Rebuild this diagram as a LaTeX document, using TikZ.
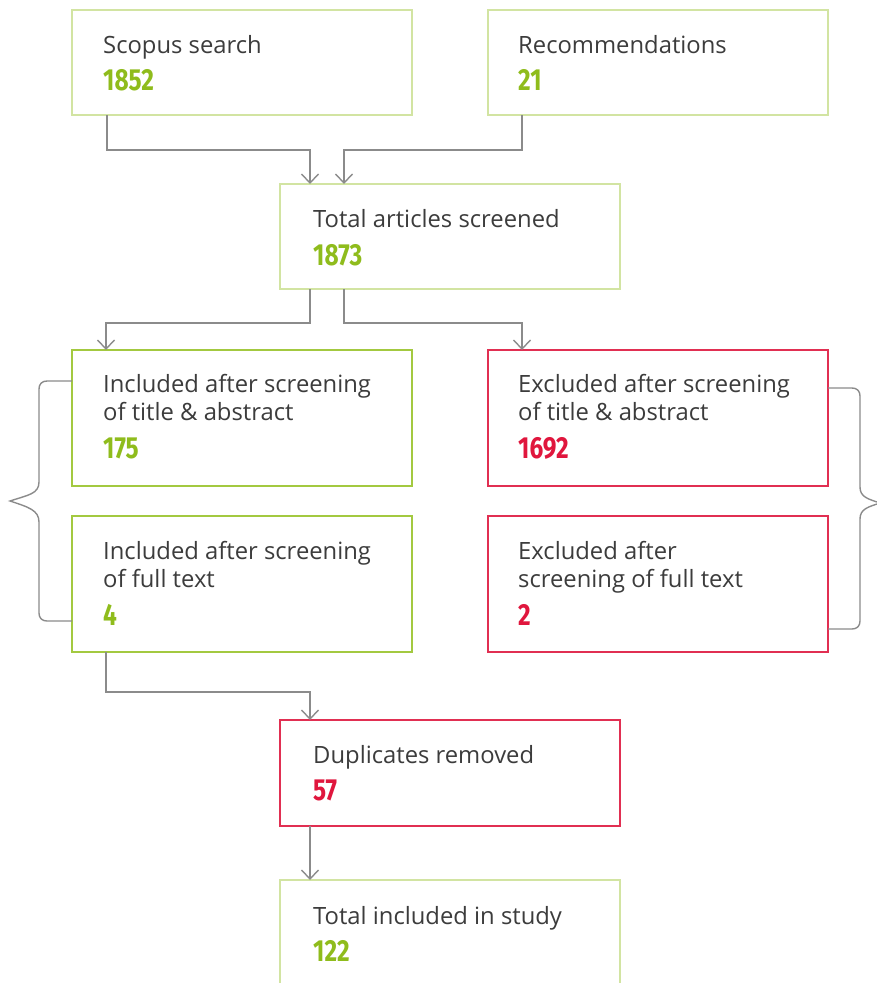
\documentclass[tikz,border=0pt]{standalone}
\usepackage{fontspec}
\setmainfont{Open Sans}
\newfontfamily\numfont{Fira Sans}
\usetikzlibrary{arrows.meta,calc}
\definecolor{lgreen}{HTML}{D2E4A2}
\definecolor{sgreen}{HTML}{A3C940}
\definecolor{ngreen}{HTML}{8FBC1C}
\definecolor{redb}{HTML}{E12F52}
\definecolor{redn}{HTML}{E0163D}
\definecolor{txt}{HTML}{3C3C3C}
\definecolor{conn}{HTML}{8B8B8B}
\tikzset{
  box/.style={draw=#1, line width=1.4pt, fill=white, minimum width=340pt, anchor=north west, inner sep=0pt, outer sep=0pt},
  lbl/.style={anchor=base west, inner sep=0pt, text=txt, font=\fontsize{23.8}{28}\selectfont},
  num/.style={anchor=base west, inner sep=0pt, text=#1, font=\numfont\bfseries\fontsize{30.5}{31}\selectfont},
  connector/.style={draw=conn, line width=1.4pt, -{Straight Barb[length=9pt,width=17pt,line width=1.4pt]}},
  bracestyle/.style={draw=conn, line width=1.4pt},
}
\newcommand\cnum[1]{\scalebox{0.8}[1]{#1}}
\begin{document}
\begin{tikzpicture}[x=1pt,y=-1pt]
\useasboundingbox (0,0) rectangle (877,983);
\clip (0,0) rectangle (877,983);
% boxes
\node[box=lgreen, minimum height=105pt] (scopus) at (72,10) {};
\node[box=lgreen, minimum height=105pt] (rec) at (488,10) {};
\node[box=lgreen, minimum height=105pt] (screened) at (280,184) {};
\node[box=sgreen, minimum height=136pt] (inc1) at (72,350) {};
\node[box=redb, minimum height=136pt] (exc1) at (488,350) {};
\node[box=sgreen, minimum height=136pt] (inc2) at (72,516) {};
\node[box=redb, minimum height=136pt] (exc2) at (488,516) {};
\node[box=redb, minimum height=106pt] (dup) at (280,720) {};
\node[box=lgreen, minimum height=140pt] (final) at (280,880) {};
% texts
\node[lbl] (t1) at (103,53) {Scopus search};
\node[num=ngreen] (n1) at (103,90) {\cnum{1852}};
\node[lbl] (t2) at (518,53) {Recommendations};
\node[num=ngreen] (n2) at (518,90) {\cnum{21}};
\node[lbl] (t3) at (313,227) {Total articles screened};
\node[num=ngreen] (n3) at (313,265) {\cnum{1873}};
\node[lbl] (t4a) at (103,392) {Included after screening};
\node[lbl] (t4b) at (103,420) {of title \& abstract};
\node[num=ngreen] (n4) at (103,458) {\cnum{175}};
\node[lbl] (t5a) at (518,392) {Excluded after screening};
\node[lbl] (t5b) at (518,420) {of title \& abstract};
\node[num=redn] (n5) at (518,458) {\cnum{1692}};
\node[lbl] (t6a) at (103,559) {Included after screening};
\node[lbl] (t6b) at (103,587) {of full text};
\node[num=ngreen] (n6) at (103,625) {\cnum{4}};
\node[lbl] (t7a) at (518,559) {Excluded after};
\node[lbl] (t7b) at (518,587) {screening of full text};
\node[num=redn] (n7) at (518,625) {\cnum{2}};
\node[lbl] (t8) at (313,763) {Duplicates removed};
\node[num=redn] (n8) at (313,800) {\cnum{57}};
\node[lbl] (t9) at (313,924) {Total included in study};
\node[num=ngreen] (n9) at (313,961) {\cnum{122}};
% connectors
\draw[connector] ([xshift=35pt]scopus.south west) -- ++(0,35) -| ([xshift=30pt]screened.north west);
\draw[connector] ([xshift=34pt]rec.south west) -- ++(0,35) -| ([xshift=64pt]screened.north west);
\draw[connector] ([xshift=30pt]screened.south west) -- ++(0,34) -| ([xshift=34pt]inc1.north west);
\draw[connector] ([xshift=64pt]screened.south west) -- ++(0,34) -| ([xshift=34pt]exc1.north west);
\draw[connector] ([xshift=34pt]inc2.south west) -- ++(0,40) -| ([xshift=30pt]dup.north west);
\draw[connector] ([xshift=30pt]dup.south west) -- ([xshift=30pt]final.north west);
% braces
\coordinate (lb1) at ([yshift=-31pt]inc1.north west);
\coordinate (lb2) at ([yshift=31pt]inc2.south west);
\draw[bracestyle] (lb1) -- (47,381) .. controls (42,381) and (39,384) .. (39,389) -- (39,482)
  .. controls (39,494) and (28,495) .. (10,501) .. controls (28,507) and (39,510) .. (39,522)
  -- (39,613) .. controls (39,618) and (42,621) .. (47,621) -- (lb2);
\coordinate (rb1) at ([yshift=-38pt]exc1.north east);
\coordinate (rb2) at ([yshift=23pt]exc2.south east);
\draw[bracestyle] (rb1) -- (852,388) .. controls (857,388) and (860,391) .. (860,396) -- (860,487)
  .. controls (860,497) and (868,499) .. (880,503) .. controls (868,507) and (860,509) .. (860,519)
  -- (860,621) .. controls (860,626) and (857,629) .. (852,629) -- (rb2);
\end{tikzpicture}
\end{document}
